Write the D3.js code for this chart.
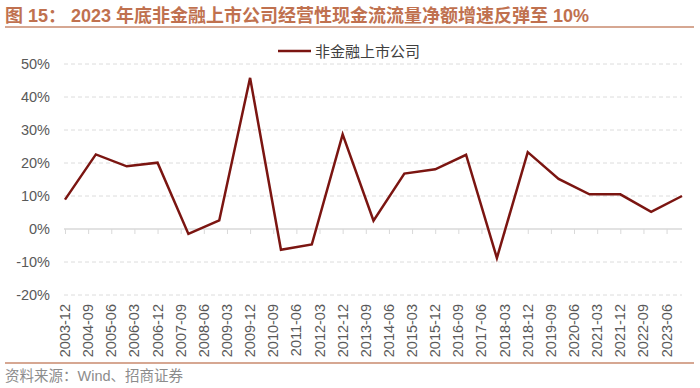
<!DOCTYPE html>
<html>
<head>
<meta charset="utf-8">
<script src="https://cdn.jsdelivr.net/npm/d3@7"></script>
<style>
  body { margin: 0; background: #fff; }
  text { font-family: Arial, "Liberation Sans", "Noto Sans CJK SC", sans-serif; }
</style>
</head>
<body>
<div id="chart"></div>
<script>
// year-end observations
const periods = ['2003-12','2004-12','2005-12','2006-12','2007-12','2008-12','2009-12','2010-12',
  '2011-12','2012-12','2013-12','2014-12','2015-12','2016-12','2017-12','2018-12','2019-12',
  '2020-12','2021-12','2022-12','2023-12'];
const growth = [8.9, 22.6, 19.0, 20.1, -1.5, 2.6, 45.8, -6.3, -4.7, 28.7, 2.5, 16.8, 18.1, 22.5,
  -8.8, 23.3, 15.2, 10.5, 10.5, 5.2, 10.0];
const xTickLabels = ['2003-12','2004-09','2005-06','2006-03','2006-12','2007-09','2008-06','2009-03',
  '2009-12','2010-09','2011-06','2012-03','2012-12','2013-09','2014-06','2015-03','2015-12',
  '2016-09','2017-06','2018-03','2018-12','2019-09','2020-06','2021-03','2021-12','2022-09','2023-06'];
const yTicks = [-20, -10, 0, 10, 20, 30, 40, 50];
const seriesName = '非金融上市公司';

const W = 700, H = 388;
const margin = { left: 65, right: 18, top: 64, bottom: 93 };

function monthIdx(s) {
	const [y, m] = s.split('-').map(Number);
	return y * 12 + m;
}

const svg = d3.select('#chart').append('svg')
	.attr('width', W).attr('height', H);

const x = d3.scaleLinear()
	.domain([monthIdx(periods[0]), monthIdx(periods[periods.length - 1])])
	.range([margin.left, W - margin.right]);
const y = d3.scaleLinear()
	.domain([-20, 50])
	.range([H - margin.bottom, margin.top]);

// title
svg.append('text')
	.attr('x', 5).attr('y', 22)
	.attr('fill', '#c0714f')
	.attr('font-size', 18).attr('font-weight', 'bold')
	.text('图 15： 2023 年底非金融上市公司经营性现金流流量净额增速反弹至 10%');
svg.append('line')
	.attr('x1', 5).attr('x2', 694).attr('y1', 27).attr('y2', 27)
	.attr('stroke', '#c98a6e').attr('stroke-width', 1.5);

// grid
svg.append('g').selectAll('line')
	.data(yTicks.filter(d => d !== 0))
	.enter().append('line')
	.attr('x1', x.range()[0] - 1).attr('x2', x.range()[1])
	.attr('y1', d => y(d)).attr('y2', d => y(d))
	.attr('stroke', '#dcdcdc').attr('stroke-dasharray', '4,3');

// y axis
const yAxis = svg.append('g')
	.attr('transform', 'translate(' + (margin.left - 15) + ',0)')
	.call(d3.axisLeft(y).tickValues(yTicks).tickSize(0).tickFormat(d => d + '%'));
yAxis.select('.domain').remove();
yAxis.selectAll('text')
	.attr('font-size', 14.5).attr('fill', '#595959')
	.attr('font-family', 'Arial, "Liberation Sans", sans-serif')
	.attr('x', 0);

// x axis at zero
const xAxis = svg.append('g')
	.attr('transform', 'translate(0,' + y(0) + ')')
	.call(d3.axisBottom(x).tickValues(xTickLabels.map(monthIdx)).tickSize(5).tickFormat(''));
xAxis.select('.domain').attr('stroke', '#d9d9d9').attr('stroke-width', 1.5)
	.attr('d', 'M' + (x.range()[0] - 1) + ',0H' + x.range()[1]);
xAxis.selectAll('.tick line').attr('stroke', '#d9d9d9');

// x labels at bottom
svg.append('g').selectAll('text')
	.data(xTickLabels)
	.enter().append('text')
	.attr('transform', d => 'translate(' + (x(monthIdx(d)) + 5) + ',304) rotate(-90)')
	.attr('text-anchor', 'end')
	.attr('font-size', 14.5).attr('fill', '#595959')
	.text(d => d);

// line
const line = d3.line()
	.x((d, i) => x(monthIdx(periods[i])))
	.y(d => y(d));
svg.append('path')
	.datum(growth)
	.attr('d', line)
	.attr('fill', 'none')
	.attr('stroke', '#7b1511')
	.attr('stroke-width', 2.5)
	.attr('stroke-linejoin', 'miter');

// legend
svg.append('line')
	.attr('x1', 278).attr('x2', 311).attr('y1', 51).attr('y2', 51)
	.attr('stroke', '#7b1511').attr('stroke-width', 2.5);
svg.append('text')
	.attr('x', 315).attr('y', 56.5)
	.attr('font-size', 15).attr('fill', '#404040')
	.attr('font-family', '"Noto Sans CJK SC", sans-serif')
	.text(seriesName);

// footer
svg.append('line')
	.attr('x1', 5).attr('x2', 694).attr('y1', 363).attr('y2', 363)
	.attr('stroke', '#c98a6e').attr('stroke-width', 1.5);
svg.append('text')
	.attr('x', 5).attr('y', 381)
	.attr('font-size', 14.5).attr('fill', '#8c8c8c')
	.attr('font-family', '"Noto Sans CJK SC", sans-serif')
	.text('资料来源：Wind、招商证券');
</script>
</body>
</html>
